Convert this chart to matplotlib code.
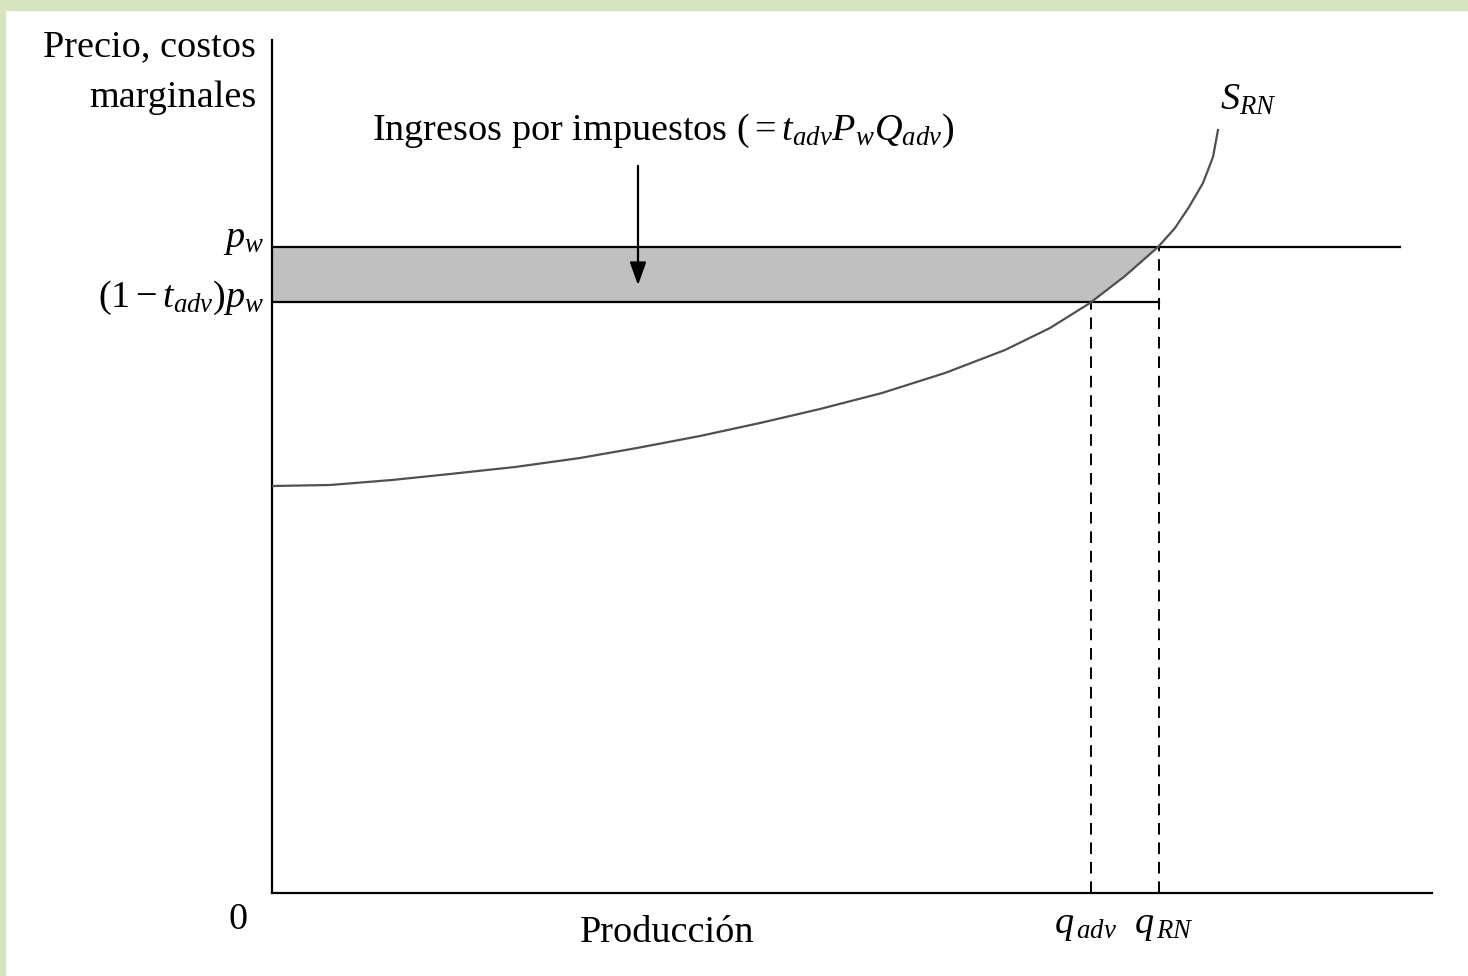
import numpy as np
import matplotlib
matplotlib.use('Agg')
import matplotlib.pyplot as plt
from matplotlib.patches import Rectangle

plt.rcParams['font.family'] = ['Liberation Serif', 'DejaVu Serif']
plt.rcParams['mathtext.fontset'] = 'custom'
plt.rcParams['mathtext.rm'] = 'Liberation Serif'
plt.rcParams['mathtext.it'] = 'Liberation Serif:italic'

# supply curve S_RN (output, price)
supply_q = [0.0, 5.8, 12.0, 17.8, 24.3, 30.8, 36.5, 42.8, 48.8, 54.8, 61.0,
            67.3, 73.3, 77.8, 81.8, 85.3, 88.6, 90.3, 91.7, 93.1, 94.1, 94.6]
supply_p = [40.7, 40.8, 41.3, 41.9, 42.6, 43.5, 44.5, 45.7, 47.0, 48.4, 50.0,
            52.0, 54.3, 56.5, 59.0, 61.7, 64.6, 66.5, 68.6, 71.0, 73.6, 76.3]

p_w = 64.6          # world price
p_low = 59.1        # (1 - t_adv) p_w
q_adv = 81.9
q_rn = 88.7
pw_line_end = 112.8
x_max = 116.0
y_max = 85.3

fig = plt.figure(figsize=(14.68, 9.76), dpi=100)
W, H = 1468, 976
fig.patches.append(Rectangle((0, 1 - 10 / H), 1, 10 / H, transform=fig.transFigure,
                             color='#d8e4bf', zorder=0))
fig.patches.append(Rectangle((0, 0), 5 / W, 1, transform=fig.transFigure,
                             color='#d8e4bf', zorder=0))

ax = fig.add_axes([272 / W, (H - 893) / H, (1432 - 272) / W, (893 - 40) / H])
ax.set_xlim(0, x_max)
ax.set_ylim(0, y_max)
for s in ['top', 'right']:
    ax.spines[s].set_visible(False)
for s in ['left', 'bottom']:
    ax.spines[s].set_linewidth(1.6)
ax.set_xticks([])
ax.set_yticks([])

# tax revenue band
band_y = np.linspace(p_low, p_w, 50)
band_x = np.interp(band_y, supply_p, supply_q)
ax.fill_betweenx(band_y, 0, band_x, color='#c0c0c0', lw=0, zorder=1)

ax.plot([0, pw_line_end], [p_w, p_w], color='black', lw=1.6, zorder=3)
ax.plot([0, q_rn], [p_low, p_low], color='black', lw=1.6, zorder=3)
ax.plot([q_adv, q_adv], [0, p_low], color='black', lw=1.4, ls=(0, (6, 4)), zorder=3)
ax.plot([q_rn, q_rn], [0, p_w], color='black', lw=1.4, ls=(0, (6, 4)), zorder=3)
ax.plot(supply_q, supply_p, color='#505050', lw=1.6, zorder=4)

ax.annotate('', xy=(36.6, 60.5), xytext=(36.6, 73.0),
            arrowprops=dict(arrowstyle='-|>,head_width=0.5,head_length=1.4',
                            color='black', lw=1.6), zorder=5)

fs = 27.5
ax.text(-1.6, 84.6, 'Precio, costos', ha='right', va='center', fontsize=fs, clip_on=False)
ax.text(-1.6, 79.5, 'marginales', ha='right', va='center', fontsize=fs, clip_on=False)
ax.text(10.0, 76.2, r'Ingresos por impuestos $(=t_{adv}P_wQ_{adv})$', ha='left',
        va='center', fontsize=fs)
ax.text(-0.8, 65.3, r'$p_w$', ha='right', va='center', fontsize=fs, clip_on=False)
ax.text(-0.8, 59.5, r'$(1-t_{adv})p_w$', ha='right', va='center', fontsize=fs, clip_on=False)
ax.text(94.8, 79.3, r'$S_{RN}$', ha='left', va='center', fontsize=fs)
ax.text(-3.4, -2.7, '0', ha='center', va='center', fontsize=fs, clip_on=False)
ax.text(39.5, -4.0, 'Producción', ha='center', va='center', fontsize=fs, clip_on=False)
ax.text(q_adv - 0.6, -3.3, r'$q_{\,adv}$', ha='center', va='center', fontsize=fs, clip_on=False)
ax.text(q_rn + 0.5, -3.3, r'$q_{\,RN}$', ha='center', va='center', fontsize=fs, clip_on=False)

fig.savefig('out.png', dpi=100)
